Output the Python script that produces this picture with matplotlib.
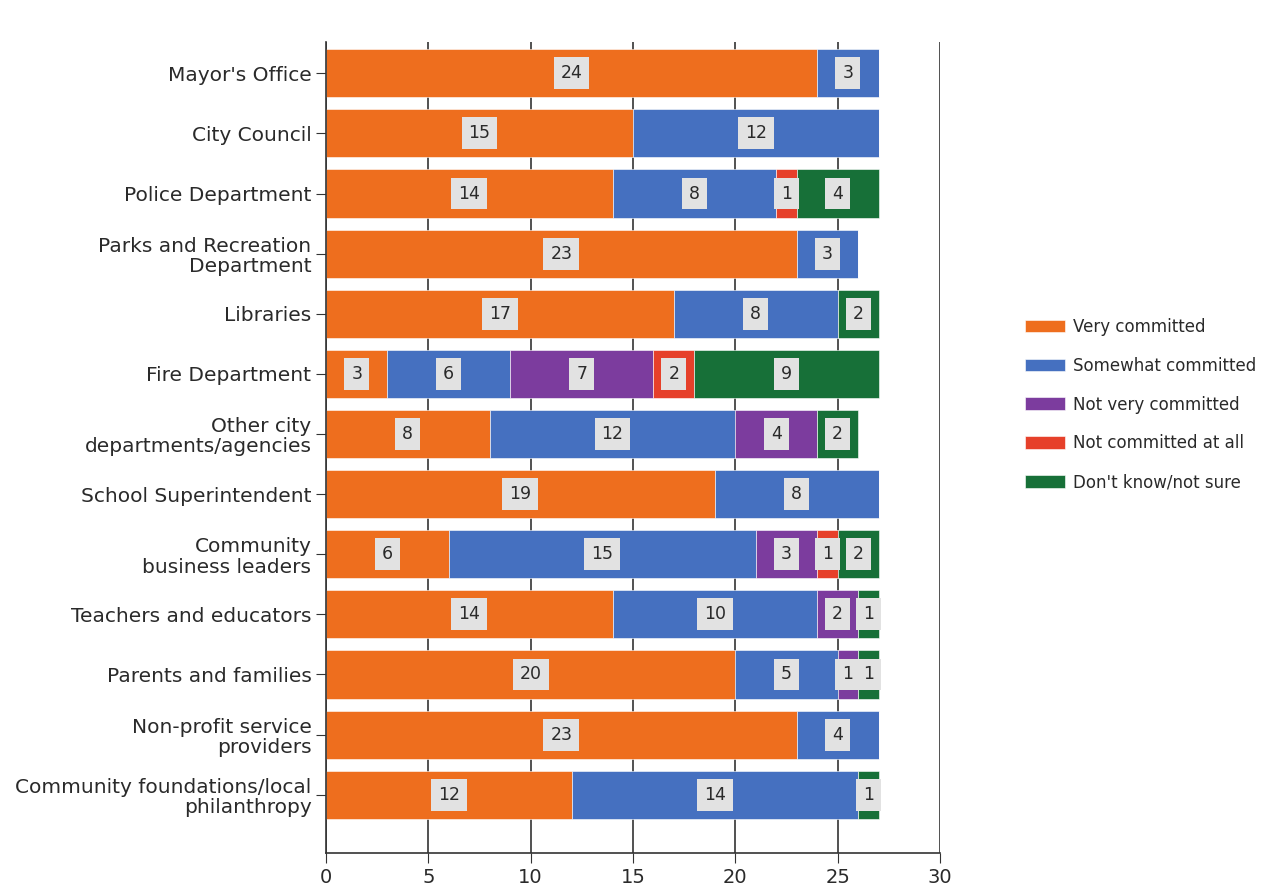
import matplotlib.pyplot as plt
import numpy as np

#----- Data -----
categories = [ "Mayor's Office", "City Council", "Police Department",
	"Parks and Recreation\nDepartment", "Libraries", "Fire Department",
	"Other city\ndepartments/agencies", "School Superintendent",
	"Community\nbusiness leaders", "Teachers and educators",
	"Parents and families", "Non-profit service\nproviders",
	"Community foundations/local\nphilanthropy" ]

series_names = [ "Very committed", "Somewhat committed", "Not very committed",
	"Not committed at all", "Don't know/not sure" ]

very_committed     = [ 24, 15, 14, 23, 17, 3, 8, 19, 6, 14, 20, 23, 12 ]
somewhat_committed = [ 3, 12, 8, 3, 8, 6, 12, 8, 15, 10, 5, 4, 14 ]
not_very           = [ 0, 0, 0, 0, 0, 7, 4, 0, 3, 2, 1, 0, 0 ]
not_at_all         = [ 0, 0, 1, 0, 0, 2, 0, 0, 1, 0, 0, 0, 0 ]
dont_know          = [ 0, 0, 4, 0, 2, 9, 2, 0, 2, 1, 1, 0, 1 ]

colors = [ "#EE6E1E", "#4570C0", "#7C3C9E", "#E6402A", "#177038" ]

#----- Plot -----
plt.rcParams["font.family"] = [ "DejaVu Sans" ]

fig = plt.figure( figsize=(12.69, 8.88), dpi=100 )
ax = fig.add_axes( [0.2569, 0.0394, 0.4838, 0.9133] )

y = np.arange( len(categories) )
left = np.zeros( len(categories) )
for name, vals, col in zip( series_names, [very_committed, somewhat_committed, not_very, not_at_all, dont_know], colors ):
	vals = np.array( vals, dtype=float )
	ax.barh( y, vals, left=left, height=0.8, color=col, label=name,
		edgecolor="white", linewidth=0.4, zorder=2 )
	for yi, l, v in zip( y, left, vals ):
		if v > 0:
			ax.text( l + v / 2, yi, "%d" % v, ha="center", va="center", fontsize=12.5,
				color="#2a2a2a", zorder=4,
				bbox=dict( boxstyle="square,pad=0.4", fc="#E2E2E2", ec="none" ) )
	left += vals

ax.set_xlim( 0, 30 )
ax.set_ylim( 12.97, -0.52 )
ax.set_xticks( range(0, 31, 5) )
ax.set_yticks( y )
ax.set_yticklabels( categories, fontsize=14.5, color="#2a2a2a", multialignment="right",
	linespacing=1.1 )
ax.tick_params( axis="x", labelsize=14, labelcolor="#2a2a2a", length=7, color="#333333" )
ax.tick_params( axis="y", length=7, color="#333333" )
ax.xaxis.grid( True, color="#333333", linewidth=1.2, zorder=0 )
ax.set_axisbelow( True )

for s in [ "top", "right" ]:
	ax.spines[s].set_visible( False )
for s in [ "left", "bottom" ]:
	ax.spines[s].set_color( "#333333" )
	ax.spines[s].set_linewidth( 1.2 )

ax.legend( loc="center left", bbox_to_anchor=(1.138, 0.553), frameon=False, fontsize=12,
	handlelength=2.4, handleheight=0.8, handletextpad=0.5, labelspacing=1.25,
	borderpad=0, borderaxespad=0, labelcolor="#2a2a2a" )

plt.savefig( "out.png", dpi=100 )
plt.close()
